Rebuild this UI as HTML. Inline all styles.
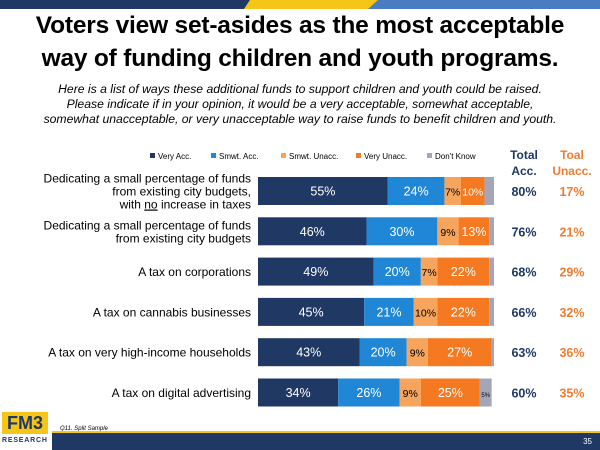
<!DOCTYPE html>
<html><head><meta charset="utf-8"><style>
body{margin:0;width:600px;height:450px;overflow:hidden;background:#fff;font-family:"Liberation Sans",sans-serif;position:relative}
.t{position:absolute;left:0;width:600px;text-align:center}
</style></head><body>
<svg width="600" height="9" style="position:absolute;left:0;top:0">
<rect width="600" height="9" fill="#4a7cc4"/><polygon points="0,0 250,0 244,9 0,9" fill="#1f3864"/><polygon points="250,0 378,0 368,9 244,9" fill="#f5c518"/></svg>
<div class="t" style="top:9px;font-size:24.5px;font-weight:bold;line-height:33px;letter-spacing:-0.2px">Voters view set-asides as the most acceptable<br>way of funding children and youth programs.</div>
<div class="t" style="top:82px;font-size:12.2px;font-style:italic;line-height:15px">Here is a list of ways these additional funds to support children and youth could be raised.<br>Please indicate if in your opinion, it would be a very acceptable, somewhat acceptable,<br>somewhat unacceptable, or very unacceptable way to raise funds to benefit children and youth.</div>
<svg id="c" width="600" height="450" style="position:absolute;left:0;top:0"></svg>
<div style="position:absolute;left:2px;top:412px;width:46px;height:22px;background:#f5c518;font-weight:bold;font-size:18px;color:#1f3864;text-align:center;line-height:22px">FM3</div>
<div style="position:absolute;left:2px;top:437px;font-size:7px;font-weight:bold;color:#1f3864;letter-spacing:0.8px">RESEARCH</div>
<div style="position:absolute;left:60px;top:426px;font-size:6px;font-style:italic">Q11. Split Sample</div>
<div style="position:absolute;left:52px;top:431px;width:548px;height:2px;background:#f5c518"></div>
<div style="position:absolute;left:52px;top:433px;width:548px;height:17px;background:#1f3864;color:#fff;font-size:8px;text-align:right;line-height:17px;box-sizing:border-box;padding-right:8px">35</div>
<script>
const categories=[["Dedicating a small percentage of funds","from existing city budgets,","with no increase in taxes"],["Dedicating a small percentage of funds","from existing city budgets"],["A tax on corporations"],["A tax on cannabis businesses"],["A tax on very high-income households"],["A tax on digital advertising"]];
const veryAcc=[55,46,49,45,43,34];
const smwtAcc=[24,30,20,21,20,26];
const smwtUnacc=[7,9,7,10,9,9];
const veryUnacc=[10,13,22,22,27,25];
const dontKnow=[4,2,2,2,1,5];
const totalAcc=[80,76,68,66,63,60];
const totalUnacc=[17,21,29,32,36,35];
const seriesNames=["Very Acc.","Smwt. Acc.","Smwt. Unacc.","Very Unacc.","Don't Know"];
const colors=["#1f3864","#1f87d6","#f7a45c","#f47920","#a5a5b8"];
const textCol=["#fff","#fff","#000","#fff","#000"];
const svg=document.getElementById('c');const NS="http://www.w3.org/2000/svg";
const x0=258,W=236,yTop=177,step=40.3,bh=28;
const xs=v=>v*W/100, yc=i=>yTop+bh/2+i*step;
function mk(t,a,txt){const e=document.createElementNS(NS,t);for(const k in a)e.setAttribute(k,a[k]);if(txt!=null)e.textContent=txt;svg.appendChild(e);return e;}
const series=[veryAcc,smwtAcc,smwtUnacc,veryUnacc,dontKnow];
const lx=[150,211,281,356,427];
seriesNames.forEach((n,j)=>{
 const r=mk('rect',{x:lx[j],y:153,width:5,height:5,fill:colors[j]});
 
 
 const t=mk('text',{x:lx[j]+8,y:159,'font-size':8},n);
 
 
});
[["Total",524,159,"#1f3864"],["Acc.",524,175,"#1f3864"],["Toal",572,159,"#ee7d31"],["Unacc.",572,175,"#ee7d31"]].forEach(h=>{
 const t=mk('text',{x:h[1],y:h[2],'font-size':12,'font-weight':'bold',fill:h[3],'text-anchor':'middle'},h[0]);
 
 
});
categories.forEach((lines,i)=>{
 const c=yc(i);let acc=0;
 series.forEach((s,j)=>{
  const v=s[i];const r=mk('rect',{x:x0+xs(acc),y:c-bh/2,width:xs(v),height:bh,fill:colors[j]});
  
  
  if(j<4||v>=5){const t=mk('text',{x:x0+xs(acc+v/2),y:c+4.5,'font-size':(j==4?6:(v<12?10.5:12.5)),fill:textCol[j],'text-anchor':'middle'},v+'%');
   
   }
  acc+=v;
 });
 const n=lines.length;
 lines.forEach((l,k)=>{
  const t=mk('text',{x:251,y:c+4.5+(k-(n-1)/2)*13,'font-size':12,'text-anchor':'end'},l);
  if(l==="with no increase in taxes"){t.textContent="";const a=document.createElementNS(NS,'tspan');a.textContent="with ";t.appendChild(a);const b=document.createElementNS(NS,'tspan');b.setAttribute('text-decoration','underline');b.textContent="no";t.appendChild(b);const d=document.createElementNS(NS,'tspan');d.textContent=" increase in taxes";t.appendChild(d);}
  
  
 });
 const a=mk('text',{x:524,y:c+5,'font-size':12.5,'font-weight':'bold',fill:'#1f3864','text-anchor':'middle'},totalAcc[i]+'%');
 
 
 const u=mk('text',{x:572,y:c+5,'font-size':12.5,'font-weight':'bold',fill:'#ee7d31','text-anchor':'middle'},totalUnacc[i]+'%');
 
 
});
</script>
</body></html>
